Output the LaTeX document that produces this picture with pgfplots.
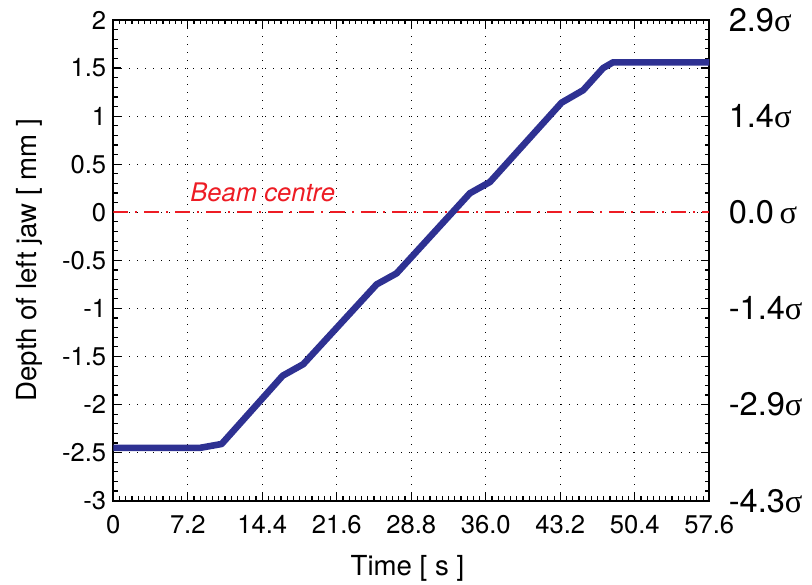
\documentclass[border=0pt]{standalone}
\usepackage{pgfplots}
\pgfplotsset{compat=1.18}
\usepackage{fontspec}
\setmainfont{TeX Gyre Heros}
\newfontfamily\sigfont{Liberation Serif}
\definecolor{jawblue}{RGB}{46,49,146}
\definecolor{beamred}{RGB}{237,28,36}
\begin{document}
\begin{tikzpicture}
\useasboundingbox (-56.65pt,-41.65pt) rectangle (349.35pt,250.35pt);
\begin{axis}[
  at={(0,0)}, anchor=south west,
  scale only axis, width=298pt, height=240.35pt,
  xmin=0, xmax=57.6, ymin=-3, ymax=2,
  xtick={0,7.2,14.4,21.6,28.8,36,43.2,50.4,57.6},
  xticklabels={0,7.2,14.4,21.6,28.8,36.0,43.2,50.4,57.6},
  ytick={-3,-2.5,-2,-1.5,-1,-0.5,0,0.5,1,1.5,2},
  yticklabels={-3,-2.5,-2,-1.5,-1,-0.5,0,0.5,1,1.5,2},
  minor x tick num=11, minor y tick num=4,
  tick align=inside,
  major tick length=4pt, minor tick length=2.2pt,
  every tick/.style={black, line width=0.6pt},
  axis line style={line width=1pt},
  grid=major,
  major grid style={black, line width=0.55pt, dash pattern=on 0.55pt off 3.45pt},
  ticklabel style={font=\fontsize{12.8}{15}\selectfont},
  xticklabel shift=3.7pt,
  xlabel={Time [ s ]}, ylabel={Depth of left jaw [ mm ]},
  label style={font=\fontsize{13.8}{16}\selectfont},
  xlabel style={at={(axis description cs:0.4936,-0.1546)}, anchor=base},
  ylabel style={at={(axis description cs:-0.1285,0.5)}, anchor=base},
]
\addplot[beamred, line width=0.8pt, dash pattern=on 7.5pt off 3.5pt on 1pt off 3.5pt] coordinates {(0,0) (57.6,0)};
\addplot[jawblue, line width=3.3pt, line join=round] coordinates {
(0,-2.45) (8.4,-2.45) (10.47,-2.41) (16.37,-1.70) (18.36,-1.58) (25.45,-0.75)
(27.38,-0.635) (34.46,0.198) (36.4,0.315) (43.32,1.14) (45.41,1.27) (47.34,1.50)
(48.3,1.56) (57.6,1.56)};
\node[anchor=base west, text=beamred, font=\fontsize{12.8}{15}\selectfont\itshape, inner sep=0pt] at (axis cs:7.4,0.11) {Beam centre};
\end{axis}
\begin{axis}[
  at={(0,0)}, anchor=south west,
  scale only axis, width=298pt, height=240.35pt,
  xmin=0, xmax=57.6, ymin=-3, ymax=2,
  hide x axis, axis y line*=right, axis line style={draw=none},
  ytick={-3,-2,-1,0,1,2},
  yticklabels={{-4.3{\sigfont σ}},{-2.9{\sigfont σ}},{-1.4{\sigfont σ}},{0.0\,{\sigfont σ}},{1.4{\sigfont σ}},{2.9{\sigfont σ}}},
  major tick length=0pt,
  yticklabel style={font=\fontsize{16.3}{19}\selectfont},
  yticklabel shift=6.2pt,
]
\end{axis}
\end{tikzpicture}
\end{document}
